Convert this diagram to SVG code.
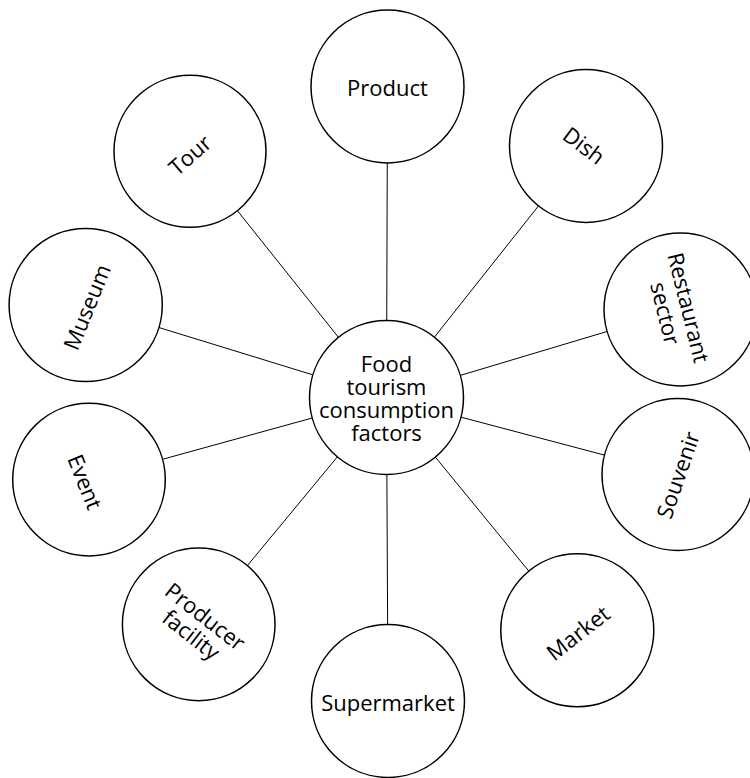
<svg xmlns="http://www.w3.org/2000/svg" width="750" height="778" viewBox="0 0 750 778">
<style>
.n{fill:#fff;stroke:#000;stroke-width:1.5}
.c{stroke:#000;stroke-width:1}
text{font-family:"Open Sans","Liberation Sans",sans-serif;font-size:22px;fill:#000;text-anchor:middle}
</style>
<rect width="750" height="778" fill="#fff"/>
<g id="connectors">
<line class="c" x1="386.5" y1="397.5" x2="387.5" y2="86.5"/>
<line class="c" x1="386.5" y1="397.5" x2="586" y2="146"/>
<line class="c" x1="386.5" y1="397.5" x2="680.5" y2="309.5"/>
<line class="c" x1="386.5" y1="397.5" x2="678" y2="474.5"/>
<line class="c" x1="386.5" y1="397.5" x2="577.3" y2="630.3"/>
<line class="c" x1="386.5" y1="397.5" x2="388" y2="701"/>
<line class="c" x1="386.5" y1="397.5" x2="198.7" y2="624.4"/>
<line class="c" x1="386.5" y1="397.5" x2="89" y2="479.6"/>
<line class="c" x1="386.5" y1="397.5" x2="85.7" y2="305"/>
<line class="c" x1="386.5" y1="397.5" x2="190" y2="151.3"/>
</g>
<g id="center">
<circle class="n" cx="386.5" cy="397.5" r="77"/>
<text x="386.5" y="372">Food</text>
<text x="386.5" y="395">tourism</text>
<text x="386.5" y="418">consumption</text>
<text x="386.5" y="441">factors</text>
</g>
<g id="product">
<circle class="n" cx="387.5" cy="86.5" r="76.5"/>
<text x="387.5" y="96">Product</text>
</g>
<g id="dish">
<circle class="n" cx="586" cy="146" r="76.5"/>
<text transform="translate(584,145.5) rotate(37)" y="8">Dish</text>
</g>
<g id="restaurant">
<circle class="n" cx="680.5" cy="309.5" r="76.5"/>
<g transform="translate(677,310.5) rotate(76)">
<text y="-4">Restaurant</text>
<text y="20">sector</text>
</g>
</g>
<g id="souvenir">
<circle class="n" cx="678" cy="474.5" r="76"/>
<text transform="translate(678,475) rotate(-71)" y="8">Souvenir</text>
</g>
<g id="market">
<circle class="n" cx="577.3" cy="630.3" r="76.5"/>
<text transform="translate(578,633) rotate(-38)" y="8">Market</text>
</g>
<g id="supermarket">
<circle class="n" cx="388" cy="701" r="76.5"/>
<text x="388" y="711">Supermarket</text>
</g>
<g id="producer">
<circle class="n" cx="198.7" cy="624.4" r="76.3"/>
<g transform="translate(198,626) rotate(38)">
<text y="-4">Producer</text>
<text y="19">facility</text>
</g>
</g>
<g id="event">
<circle class="n" cx="89" cy="479.6" r="76.3"/>
<text transform="translate(85,482) rotate(68)" y="8">Event</text>
</g>
<g id="museum">
<circle class="n" cx="85.7" cy="305" r="76.6"/>
<text transform="translate(87,307) rotate(-68)" y="8">Museum</text>
</g>
<g id="tour">
<circle class="n" cx="190" cy="151.3" r="76"/>
<text transform="translate(190,155) rotate(-41)" y="8">Tour</text>
</g>
</svg>
